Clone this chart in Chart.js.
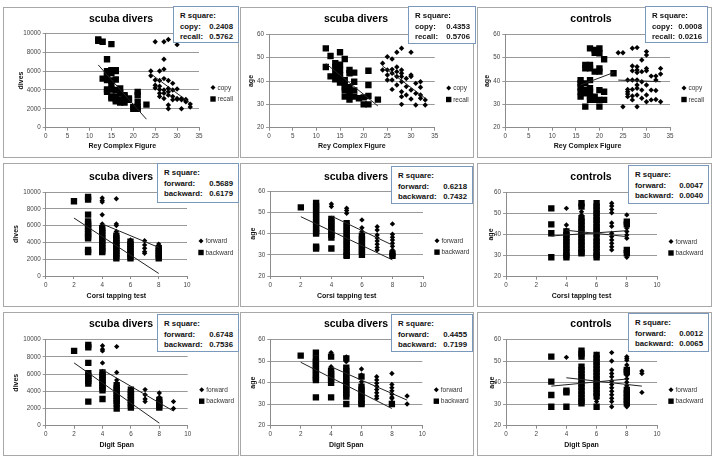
<!DOCTYPE html>
<html>
<head>
<meta charset="utf-8">
<script src="https://cdn.jsdelivr.net/npm/chart.js@4.4.1/dist/chart.umd.min.js"></script>
<style>
  body { margin: 0; background: #fff; width: 714px; height: 460px; position: relative; overflow: hidden;
         font-family: "Liberation Sans", Arial, sans-serif; }
  canvas, .frame, .rbox { position: absolute; }
  .frame { border: 1px solid #a8a8a8; box-sizing: border-box; pointer-events: none; }
  .rbox { background: #fff; border: 1px solid #7b98bd; box-sizing: border-box; font-weight: bold;
          font-size: 7.8px; line-height: 10.5px; color: #111; padding: 4px 5px 0 6px; }
  .rbox .row { display: flex; justify-content: space-between; }
</style>
</head>
<body>
<script>
// ---- data: row 1, Rey Complex Figure ([x, y] pairs) ----
const reyDiversCopy = [[25,9100],[27,9100],[28,9350],[30,8800],[27,7250],[27,6200],[26,6000],[24,6000],[24,5500],
  [25,5050],[26,5000],[27,5200],[28,5000],[25,4500],[25,4200],[26,4050],[26,3650],[27,4000],[27,3650],[28,4150],
  [28,3450],[29,4700],[29,4000],[30,4100],[29,3300],[29,2950],[30,3100],[31,3100],[31,2950],[32,3000],[32,2750],
  [33,2500],[33,2200],[31,2000],[28,2000],[28,2400],[26,3300],[27,3100],[30,3000],[32,2900],[26,4400],[28,3800]];
const reyDiversRecall = [[12,9350],[12,9200],[13,9100],[15,8850],[14,7250],[14,6000],[14,5700],[14,5050],[15,6100],
  [16,6100],[16,6000],[13,5200],[14,4050],[14,3800],[15,4500],[15,4050],[15,3300],[16,3300],[16,5100],[15,5000],
  [16,3000],[17,3000],[17,3650],[17,2650],[18,3300],[18,3450],[18,2950],[19,2950],[18,2650],[20,2200],[20,2000],
  [21,3800],[21,3450],[21,2750],[21,2000],[23,2450],[16,4000],[17,4150],[15,5800],[14,5400],[15,3100],[16,2800],
  [19,3100],[21,2200]];
const reyDiversCopyTrend = [[24,5700],[33,2600]];
const reyDiversRecallTrend = [[12,6650],[23,900]];

const reyAgeCopy = [[24,47.6],[25,50.4],[26,49.4],[27,52.3],[28,54],[30,52.3],[24,44.7],[25,44.7],[25,42.6],[25,40.4],
  [26,43.3],[26,40.4],[26,36.4],[27,44],[27,41.9],[27,38.3],[28,44.7],[28,43.3],[28,41.9],[28,39.7],[28,35.4],
  [28,33.3],[28,30],[29,41.1],[29,37.6],[29,34],[30,42.6],[30,36.1],[30,32.3],[31,39],[31,34.7],[31,29.7],[32,39.7],
  [32,37.3],[32,34],[32,32.6],[33,31.9],[33,29.7],[30,41.9],[27,46],[26,45]];
const reyAgeRecall = [[12,54],[12,46],[13,50.7],[13,42],[14,47.6],[14,46],[14,42],[14,40.7],[15,52.3],[15,47],
  [15,44.7],[15,42.6],[15,39.3],[16,49.4],[16,40.4],[16,37.3],[16,36],[16,33.3],[17,44.7],[17,43.3],[17,37.3],
  [17,36],[17,33.6],[17,32],[18,43.6],[18,39.7],[18,36],[18,33.3],[19,32.6],[20,33],[20,30],[21,44.4],[21,38.3],
  [21,30],[21,33.6],[23,32],[14,44],[15,41],[16,39]];
const reyAgeCopyTrend = [[24,46.4],[33,32.6]];
const reyAgeRecallTrend = [[12,47.5],[23,29.3]];

const reyCtrlCopy = [[24,52.1],[25,52.1],[25,29],[26,40.4],[26,36.4],[26,35.4],[26,34.4],[26,33.3],[27,54],[27,46.4],
  [27,44.4],[27,40.4],[27,36.4],[27,33.6],[27,31.9],[28,54.3],[28,46.1],[28,44.7],[28,43.6],[28,40.4],[28,38.3],
  [28,36.9],[28,34],[28,29],[29,49],[29,44],[29,39.7],[29,36.1],[29,32.6],[30,52.6],[30,51.1],[30,45.4],[30,44.4],
  [30,38.3],[30,34],[30,31.1],[31,42.1],[31,36.1],[31,31.9],[32,42.1],[32,40.4],[32,35.9],[32,32.1],[33,45.4],
  [33,43],[33,31.1]];
const reyCtrlRecall = [[16,40.4],[16,39],[16,37.3],[16,35.4],[16,33.3],[17,29],[17,36.1],[17,34.7],[17,46.9],[17,45.4],
  [17,39],[18,54],[18,46.9],[18,45.4],[18,40.4],[18,36.9],[18,35.4],[18,33.3],[18,31.9],[19,53.3],[19,52.1],[19,44],
  [19,31.9],[19,33.3],[20,54],[20,51.9],[20,45.4],[20,44],[20,36.1],[20,31.9],[20,29],[21,49.3],[21,35.4],[21,31.9],
  [23,43.3]];
const reyCtrlCopyTrend = [[24,40.4],[33,39.7]];
const reyCtrlRecallTrend = [[16,38.3],[23,43.6]];

// ---- data: rows 2 and 3, spans ([score, [values]] columns) ----
const corsiDiversFwd = [[4,[9300,9000,8800,7300,6200,5700,5400,5100,4800,4500]],[5,[9200,6200,6000,5300,5000]],
  [6,[4300,4000,3700,3400,3100,2800,2500,2300]],[7,[4200,3700,3300,2900,2700]],[8,[3800,3300,2900,2600,2300]]];
const corsiDiversBwd = [[2,[8900]],[3,[9400,9100,7300,6500,6200,5900,5600,5300,5000,4700,4500,3100,2850]],
  [4,[5700,5400,5100,4800,4500,4200,3900,3600,3300,3000,2850]],[5,[4800,4500,4200,3900,3600,3300,3000,2700,2400,2100]],
  [6,[4100,3800,3500,3200,2900,2600,2300,2100]],[8,[3300,3000,2700,2400,2100]]];
const corsiDiversFwdTrend = [[4,6200],[8,3400]];
const corsiDiversBwdTrend = [[2,6900],[8,300]];

const corsiAgeFwd = [[4,[54,52.8,47,45.5,44,42.5,41.7]],[5,[52,50.9,49.6,45,43.5,42,40.2]],
  [6,[46.5,42.8,41,39.5,38,36.5,35,33.5,32.3]],[7,[43.3,41.7,39.4,38,36.5,35,33.5,32.3]],
  [8,[44.6,39.7,38.3,37,35.5,34,32.3,31]]];
const corsiAgeBwd = [[2,[52.4]],[3,[54.5,53,51.5,50,48.5,47,45.5,44,42.5,41,40,33.9,33]],
  [4,[47,45.5,44,42.5,41,39.5,38.2,33]],[5,[45,43.5,42,40.5,39,37.5,36,34.5,33,31.5,30,29.5]],
  [6,[39,37.5,36,34.5,33,31.5,30]],[8,[30.7,29.5]]];
const corsiAgeFwdTrend = [[4,48.3],[8,34.6]];
const corsiAgeBwdTrend = [[2,48],[8,27.6]];

const corsiCtrlFwd = [[4,[52.4,44.5,42.1,39.8,38.2,36.6,35,33.4,31.8,30.3]],
  [5,[50.8,49.2,47.6,46,44.4,42.8,41.2,39.6,38,36.4,34.8,33.2,31.6]],[6,[54.2,52.6,51,49.4,47.8,46.2,44.6,43,42.1]],
  [7,[54.8,53.5,51.9,50.3,45.5,43.9,40.6,39,37.4,35.8,34.2,32.7]],[8,[49.3,43,41.4,39.8,38.2,32.7,29.2]]];
const corsiCtrlBwd = [[3,[52.4,44.8,40.6,29.2]],[4,[41.4,39.8,38.2,36.6,35,33.4,31.8,30.3,29.2]],
  [5,[54.8,53.2,47.7,46.1,44.5,42.9,41.3,39.7,38.1,36.5,34.9,33.3,31.7,31.1]],
  [6,[54.8,53.2,51.6,50,48.4,46.8,45.2,43.6,42,40.6,38.2,36.6,35,33.4,31.8,30.2,29.2]],[8,[46.1,44.8,32.7,31.1]]];
const corsiCtrlFwdTrend = [[4,42],[8,39]];
const corsiCtrlBwdTrend = [[3,39.3],[8,41.8]];

const digitDiversFwd = [[4,[9300,8900,8700,7300,6300,6000,5700,5400,5100,4800,4500,4200]],
  [5,[9200,6200,5300,5000,4700,4400]],[6,[4100,3800,3500,3200,2900,2600,2400]],[7,[4200,3600,3100,2800]],
  [8,[3800,3300,3000,2700,2400]],[9,[2800,2000]]];
const digitDiversBwd = [[2,[8700]],[3,[9400,9100,7300,6100,5800,5500,5200,4900,2800]],
  [4,[6200,5900,5600,5300,5000,4700,4400,4100,3100]],[5,[4700,4400,4100,3800,3500,3200,2900,2600,2000]],
  [6,[4200,3900,3600,3300,3000,2700,2400,2100]],[8,[3000,2700,2400,2100]]];
const digitDiversFwdTrend = [[4,6500],[9,1700]];
const digitDiversBwdTrend = [[2,7300],[8,300]];

const digitAgeFwd = [[4,[54,53,47.4,45.6,44,42.4,40.5]],[5,[52,50.9,49.8,45.1,43.5,41.9,40.3,38.9]],
  [6,[46.4,43.6,40.5,39,37.5,36,34.5,33,31.2]],[7,[42.8,41.3,39.8,38.3,36.8,35.3,33.8,32.7]],
  [8,[44.3,39.2,37.7,36.2,34.7,33.2,32.7,30.9]],[9,[33.8,30.1]]];
const digitAgeBwd = [[2,[52.6]],[3,[54,51.3,49.8,48.3,46.8,45.3,43.8,42.3,41.2,33.2]],
  [4,[52.1,45.6,44.2,42.8,41.4,40,33.2]],[5,[51.3,47,45.5,44,42.5,41,39.5,38,36.5,35,33.5,30.1]],
  [6,[42.8,38.1,36.6,35.1,33.6,32.1,30.6,30.1]],[8,[30.1]]];
const digitAgeFwdTrend = [[4,47.4],[9,31.9]];
const digitAgeBwdTrend = [[2,49.5],[8,28]];

const digitCtrlFwd = [[4,[51.8]],[5,[47.4,45.8,44.2,42.6,41,39.4,37.8,36.2,34.6,33,31.4]],
  [6,[53.2,51.6,50,48.4,46.8,45.2,43.6,42,40.4,38.8,37.2,35.6,34,32.4,31.2]],
  [7,[54,50.1,45.9,44.3,42.8,40.8,39.2,37.6,36,34.4,32.8,31.2,28.8]],
  [8,[52.1,51.3,50.5,48.2,46.6,45,43.4,41.8,40.2,38.6,37,35.4,33.8,32.2,30.6,29.6,28.8]],[9,[45.4,44.3,35.5]]];
const digitCtrlBwd = [[3,[52.1,40.5,34.3,28.8]],[4,[36.3,35.5,28.8]],
  [5,[54.9,53.5,52.1,47.4,45.8,44.2,42.6,41,39.4,37.8,36.2,34.6,33,31.4,30.4]],
  [6,[52.9,51.3,49.7,48.1,46.5,44.9,43.3,41.7,40.1,38.5,36.9,35.3,33.7,28.8]],[8,[45.9,45,36.6,35,33.4,31.8,30.4]]];
const digitCtrlFwdTrend = [[4,42.3],[9,38.4]];
const digitCtrlBwdTrend = [[3,38.4],[8,41.7]];

const rSquare = [['0.2408','0.5762'],['0.4353','0.5706'],['0.0008','0.0216'],
                 ['0.5689','0.6179'],['0.6218','0.7432'],['0.0047','0.0040'],
                 ['0.6748','0.7536'],['0.4455','0.7199'],['0.0012','0.0065']];

function fromPairs(list) { return list.map(p => ({x: p[0], y: p[1]})); }
function fromColumns(list) {
    const out = [];
    list.forEach(c => c[1].forEach(v => out.push({x: c[0], y: v})));
    return out;
}

const dives = {min: 0, max: 10000, step: 2000, title: 'dives'};
const age = {min: 20, max: 60, step: 10, title: 'age'};
const rey = {min: 0, max: 35, step: 5, title: 'Rey Complex Figure', names: ['copy', 'recall']};
const corsi = {min: 0, max: 10, step: 2, title: 'Corsi tapping test', names: ['forward', 'backward']};
const digit = {min: 0, max: 10, step: 2, title: 'Digit Span', names: ['forward', 'backward']};

// layout in page pixels
const panels = [
  {box:[0,0,239,160], frame:[3,7,236,151], plot:[45.7,33.3,199,127.7], tx:121, ty:19, xty:146, ytx:21, rb:[173,6,66,37],
   title:'scuba divers', xs:rey, ys:dives, a:fromPairs(reyDiversCopy), b:fromPairs(reyDiversRecall), at:reyDiversCopyTrend, bt:reyDiversRecallTrend},
  {box:[239,0,238,160], frame:[240,7,234,151], plot:[269,34.3,434.7,127.7], tx:356, ty:19, xty:146, ytx:251, rb:[408,6,68,38],
   title:'scuba divers', xs:rey, ys:age, a:fromPairs(reyAgeCopy), b:fromPairs(reyAgeRecall), at:reyAgeCopyTrend, bt:reyAgeRecallTrend},
  {box:[477,0,237,160], frame:[477,7,235,151], plot:[505.3,34.3,670,127.7], tx:591, ty:19, xty:146, ytx:487, rb:[645,6,63,37],
   title:'controls', xs:rey, ys:age, a:fromPairs(reyCtrlCopy), b:fromPairs(reyCtrlRecall), at:reyCtrlCopyTrend, bt:reyCtrlRecallTrend},
  {box:[0,160,239,150], frame:[3,163,236,144], plot:[45.7,192,187,276], tx:121, ty:177, xty:296, ytx:16, rb:[157,163,82,40],
   title:'scuba divers', xs:corsi, ys:dives, a:fromColumns(corsiDiversFwd), b:fromColumns(corsiDiversBwd), at:corsiDiversFwdTrend, bt:corsiDiversBwdTrend},
  {box:[239,160,238,150], frame:[240,163,234,144], plot:[270.3,191.3,423,276], tx:356, ty:177, xty:296, ytx:253, rb:[391,166,82,38],
   title:'scuba divers', xs:corsi, ys:age, a:fromColumns(corsiAgeFwd), b:fromColumns(corsiAgeBwd), at:corsiAgeFwdTrend, bt:corsiAgeBwdTrend},
  {box:[477,160,237,150], frame:[477,163,235,144], plot:[506,192.3,657,276.7], tx:591, ty:177, xty:296, ytx:491, rb:[628,165,81,39],
   title:'controls', xs:corsi, ys:age, a:fromColumns(corsiCtrlFwd), b:fromColumns(corsiCtrlBwd), at:corsiCtrlFwdTrend, bt:corsiCtrlBwdTrend},
  {box:[0,310,239,150], frame:[3,312,236,144], plot:[45.7,339.7,187.7,425.7], tx:121, ty:324, xty:445, ytx:16, rb:[157,314,82,38],
   title:'scuba divers', xs:digit, ys:dives, a:fromColumns(digitDiversFwd), b:fromColumns(digitDiversBwd), at:digitDiversFwdTrend, bt:digitDiversBwdTrend},
  {box:[239,310,238,150], frame:[240,312,234,144], plot:[270.3,339.7,422.3,425.7], tx:356, ty:324, xty:445, ytx:253, rb:[391,314,82,38],
   title:'scuba divers', xs:digit, ys:age, a:fromColumns(digitAgeFwd), b:fromColumns(digitAgeBwd), at:digitAgeFwdTrend, bt:digitAgeBwdTrend},
  {box:[477,310,237,150], frame:[477,312,235,144], plot:[506,339.7,657,425.7], tx:591, ty:324, xty:445, ytx:492, rb:[628,313,81,39],
   title:'controls', xs:digit, ys:age, a:fromColumns(digitCtrlFwd), b:fromColumns(digitCtrlBwd), at:digitCtrlFwdTrend, bt:digitCtrlBwdTrend}
];

const FONT = '"Liberation Sans", Arial, sans-serif';
Chart.defaults.font.family = FONT;

// title and right-hand legend, drawn Excel style
const panelText = {
    id: 'panelText',
    afterDraw(chart, args, opts) {
        const ctx = chart.ctx, a = chart.chartArea;
        ctx.save();
        ctx.fillStyle = '#000';
        ctx.textBaseline = 'middle';
        ctx.textAlign = 'center';
        ctx.font = 'bold 10.5px ' + FONT;
        ctx.fillText(opts.title, opts.x, opts.y);

        ctx.font = '6.5px ' + FONT;
        ctx.textAlign = 'left';
        const lx = a.right + 14, cy = (a.top + a.bottom) / 2;
        opts.names.forEach((name, i) => {
            const y = cy + 7 + i * 11.5;
            ctx.fillStyle = '#000';
            ctx.beginPath();
            if (i === 0) {
                ctx.moveTo(lx - 2.5, y); ctx.lineTo(lx, y - 2.5); ctx.lineTo(lx + 2.5, y); ctx.lineTo(lx, y + 2.5);
            } else {
                ctx.rect(lx - 2.7, y - 2.7, 5.4, 5.4);
            }
            ctx.fill();
            ctx.fillStyle = '#333';
            ctx.fillText(name, lx + 4.5, y + 0.5);
        });
        ctx.restore();
    }
};

panels.forEach((p, i) => {
    const [bx, by, bw, bh] = p.box;
    const cv = document.createElement('canvas');
    cv.width = bw; cv.height = bh;
    cv.style.left = bx + 'px'; cv.style.top = by + 'px';
    cv.style.width = bw + 'px'; cv.style.height = bh + 'px';
    document.body.appendChild(cv);

    const left = p.plot[0] - bx, top = p.plot[1] - by, right = p.plot[2] - bx, bottom = p.plot[3] - by;
    const lh = 7 * 1.2;
    const xHeight = bh - bottom;
    const xPadBottom = Math.max(0, (bh - (p.xty - by)) - lh / 2);
    const yPadTop = Math.max(0, (p.ytx - bx) - lh / 2);

    const tickFont = {size: 6.3};
    const axisColor = '#8c8c8c';

    new Chart(cv, {
        type: 'scatter',
        data: {
            datasets: [
                {data: fromPairs(p.at), showLine: true, pointRadius: 0, borderColor: '#222', borderWidth: 1},
                {data: fromPairs(p.bt), showLine: true, pointRadius: 0, borderColor: '#222', borderWidth: 1},
                {label: p.xs.names[0], data: p.a, pointStyle: 'rectRot', pointRadius: 2.7,
                 backgroundColor: '#000', borderColor: '#000', borderWidth: 0},
                {label: p.xs.names[1], data: p.b, pointStyle: 'rect', pointRadius: 4.5,
                 backgroundColor: '#000', borderColor: '#000', borderWidth: 0}
            ]
        },
        options: {
            responsive: false,
            animation: false,
            events: [],
            layout: {padding: {left: 0, top: top, right: bw - right, bottom: 0}},
            plugins: {
                legend: {display: false},
                tooltip: {enabled: false},
                panelText: {title: p.title, x: p.tx - bx, y: p.ty - by, names: p.xs.names}
            },
            scales: {
                x: {
                    type: 'linear', min: p.xs.min, max: p.xs.max,
                    ticks: {stepSize: p.xs.step, font: tickFont, color: '#444', padding: 2, maxRotation: 0,
                            autoSkip: false, callback: v => v},
                    grid: {drawOnChartArea: false, tickLength: 3, color: axisColor},
                    border: {color: axisColor},
                    title: {display: true, text: p.xs.title, color: '#111',
                            font: {size: 7, weight: 'bold'}, padding: {top: 0, bottom: xPadBottom}},
                    afterFit: s => { s.height = xHeight; }
                },
                y: {
                    min: p.ys.min, max: p.ys.max,
                    ticks: {stepSize: p.ys.step, font: tickFont, color: '#444', padding: 2, autoSkip: false,
                            callback: v => v},
                    grid: {color: '#999', tickLength: 3},
                    border: {color: axisColor},
                    title: {display: true, text: p.ys.title, color: '#111',
                            font: {size: 7, weight: 'bold'}, padding: {top: yPadTop, bottom: 0}},
                    afterFit: s => { s.width = left; }
                }
            }
        },
        plugins: [panelText]
    });

    const fr = document.createElement('div');
    fr.className = 'frame';
    fr.style.cssText = `left:${p.frame[0]}px;top:${p.frame[1]}px;width:${p.frame[2]}px;height:${p.frame[3]}px`;
    document.body.appendChild(fr);
});

// R square boxes on top of everything
panels.forEach((p, i) => {
    const rb = document.createElement('div');
    rb.className = 'rbox';
    rb.style.cssText = `left:${p.rb[0]}px;top:${p.rb[1]}px;width:${p.rb[2]}px;height:${p.rb[3]}px`;
    rb.innerHTML = '<div>R square:</div>' +
        `<div class="row"><span>${p.xs.names[0]}:</span><span>${rSquare[i][0]}</span></div>` +
        `<div class="row"><span>${p.xs.names[1]}:</span><span>${rSquare[i][1]}</span></div>`;
    document.body.appendChild(rb);
});
</script>
</body>
</html>
